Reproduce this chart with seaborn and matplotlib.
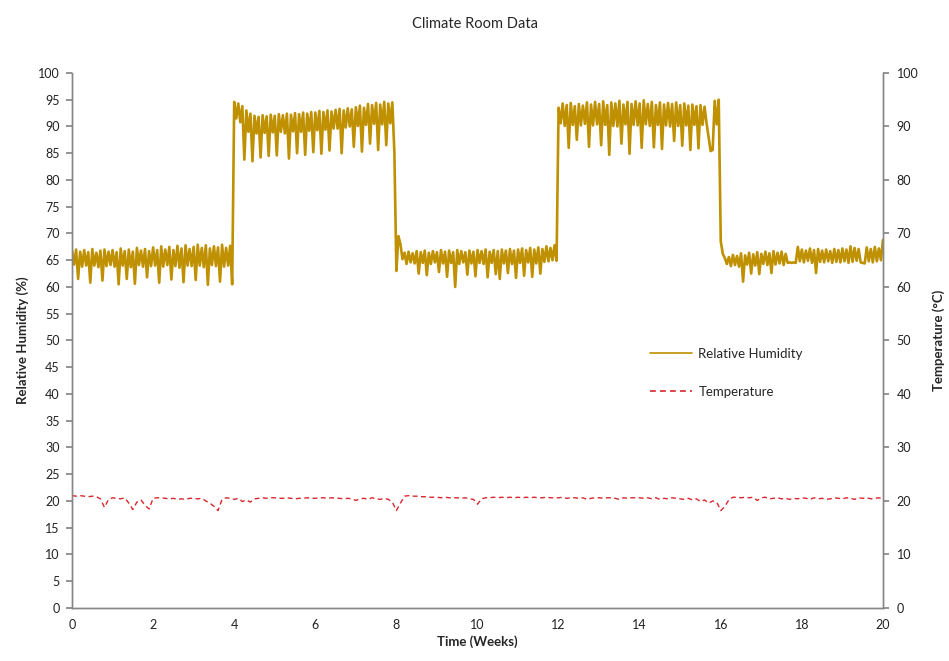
import numpy as np
import seaborn as sns
import matplotlib
matplotlib.use("Agg")
import matplotlib.pyplot as plt

# Relative humidity (%), one row per week, 20 samples a week
rh_weeks_0_4 = [
    66.8, 64.2, 67.0, 61.5, 66.6, 63.8, 66.9, 64.0, 66.5, 60.8, 67.1, 64.0, 66.4, 63.7, 66.8, 61.2, 67.0, 63.9, 66.6, 64.1,
    66.9, 63.8, 66.5, 60.5, 67.2, 64.0, 66.7, 61.5, 67.0, 63.7, 66.6, 60.6, 67.3, 64.1, 66.8, 63.8, 67.1, 61.8, 66.7, 63.9,
    67.4, 64.0, 66.9, 60.8, 67.6, 63.8, 67.0, 64.1, 67.5, 61.4, 66.9, 63.9, 67.7, 63.6, 67.2, 60.9, 67.8, 64.0, 67.1, 63.9,
    67.5, 61.3, 67.9, 64.0, 67.3, 63.7, 67.8, 60.4, 67.2, 64.1, 67.6, 63.9, 67.4, 61.0, 67.9, 63.8, 67.3, 64.0, 67.7, 60.5,
]
rh_weeks_4_8 = [
    94.6, 91.5, 94.3, 90.8, 93.8, 83.8, 93.0, 89.0, 92.4, 83.5, 92.0, 88.7, 91.8, 84.2, 92.1, 88.8, 91.9, 84.5, 92.2, 88.9,
    92.0, 84.6, 92.3, 89.0, 92.1, 88.7, 92.4, 84.0, 92.2, 89.1, 92.5, 85.0, 92.3, 89.0, 92.6, 84.7, 92.4, 89.2, 92.7, 85.2,
    92.6, 89.3, 92.9, 84.9, 92.7, 89.4, 93.0, 85.5, 92.8, 89.6, 93.1, 89.6, 93.3, 85.0, 93.0, 89.8, 93.4, 90.0, 93.2, 86.2,
    93.6, 90.1, 93.9, 85.3, 93.5, 90.3, 94.2, 86.8, 94.0, 90.5, 94.4, 85.6, 94.1, 90.4, 94.6, 86.5, 94.3, 90.6, 94.5, 85.2,
]
rh_weeks_8_12 = [
    63.0, 69.5, 68.0, 65.2, 66.4, 64.3, 66.6, 64.6, 66.3, 64.4, 66.7, 62.5, 66.5, 64.5, 66.8, 62.2, 66.4, 64.3, 66.7, 64.6,
    66.5, 62.8, 66.9, 64.4, 66.6, 61.9, 66.8, 64.5, 66.5, 60.0, 66.9, 64.3, 66.7, 64.6, 66.5, 62.3, 66.8, 64.4, 66.6, 62.0,
    66.9, 64.5, 66.7, 64.3, 67.0, 61.8, 66.6, 64.5, 66.9, 62.4, 66.7, 61.5, 67.0, 64.4, 66.8, 62.6, 67.1, 64.3, 66.8, 61.7,
    67.0, 64.5, 67.2, 62.1, 66.9, 64.6, 67.3, 61.9, 67.0, 64.4, 67.4, 62.5, 67.1, 64.7, 67.6, 64.8, 67.3, 65.0, 67.8, 64.9,
]
rh_weeks_12_16 = [
    93.5, 90.6, 94.3, 90.1, 94.0, 86.0, 94.4, 90.3, 93.8, 87.5, 94.2, 90.2, 93.9, 90.5, 94.5, 86.2, 94.1, 90.2, 94.6, 90.4,
    94.2, 86.5, 94.7, 90.3, 94.0, 84.7, 94.5, 90.1, 94.3, 90.0, 94.8, 86.8, 94.1, 90.4, 94.6, 84.9, 94.2, 90.3, 94.7, 90.2,
    94.3, 86.0, 94.9, 90.4, 94.2, 90.1, 94.6, 86.1, 94.0, 90.3, 94.5, 85.8, 94.1, 90.2, 94.4, 90.0, 94.2, 87.3, 94.5, 90.1,
    94.0, 86.4, 94.3, 90.2, 93.9, 85.6, 94.1, 90.3, 93.8, 85.9, 94.0, 90.3, 93.7, 90.6, 88.0, 85.4, 85.6, 94.8, 90.4, 95.0,
]
rh_weeks_16_20 = [
    68.5, 66.2, 65.4, 64.3, 65.6, 63.9, 66.0, 64.1, 65.8, 63.8, 66.3, 61.0, 65.9, 64.2, 66.4, 62.5, 66.1, 64.0, 66.5, 62.4,
    66.2, 64.3, 66.6, 64.1, 66.3, 62.6, 66.7, 64.2, 66.4, 64.4, 66.6, 64.1, 66.2, 64.5, 64.6, 64.5, 64.6, 64.5, 67.5, 64.8,
    67.0, 64.6, 66.8, 64.9, 67.2, 64.5, 66.9, 62.6, 67.1, 64.7, 66.8, 64.6, 67.0, 64.8, 66.7, 64.5, 67.1, 64.7, 66.9, 64.6,
    67.2, 64.8, 67.0, 64.5, 67.6, 64.7, 67.3, 64.9, 67.1, 64.6, 64.5, 64.4, 67.4, 64.8, 67.1, 64.6, 67.5, 64.8, 67.2, 65.0,
    68.8,
]

# Temperature (deg C), one row per week, 10 samples a week
temp_values = [
    21.0, 20.9, 21.0, 20.9, 20.8, 20.9, 20.8, 20.4, 18.8, 20.3,
    20.6, 20.5, 20.4, 20.6, 19.6, 18.4, 19.8, 20.2, 19.2, 18.5,
    20.5, 20.6, 20.6, 20.5, 20.4, 20.5, 20.3, 20.4, 20.3, 20.5,
    20.5, 20.4, 20.5, 20.0, 19.6, 19.0, 18.2, 20.3, 20.6, 20.5,
    20.3, 20.5, 19.9, 20.2, 19.8, 20.4, 20.5, 20.6, 20.5, 20.6,
    20.6, 20.5, 20.5, 20.6, 20.5, 20.4, 20.5, 20.5, 20.6, 20.5,
    20.5, 20.6, 20.6, 20.5, 20.6, 20.5, 20.5, 20.4, 20.5, 20.4,
    20.1, 20.4, 20.5, 20.3, 20.6, 20.4, 20.3, 20.5, 20.3, 19.8,
    18.2, 19.6, 20.9, 21.0, 20.9, 20.9, 20.8, 20.8, 20.7, 20.7,
    20.7, 20.6, 20.7, 20.6, 20.6, 20.6, 20.5, 20.6, 20.4, 20.3,
    19.4, 20.4, 20.6, 20.6, 20.7, 20.6, 20.7, 20.6, 20.7, 20.6,
    20.7, 20.6, 20.7, 20.6, 20.7, 20.6, 20.6, 20.7, 20.6, 20.6,
    20.6, 20.7, 20.5, 20.6, 20.6, 20.5, 20.6, 20.3, 20.5, 20.6,
    20.6, 20.5, 20.6, 20.6, 20.5, 20.3, 20.6, 20.5, 20.6, 20.6,
    20.6, 20.5, 20.6, 20.4, 20.6, 20.3, 20.5, 20.4, 20.6, 20.5,
    20.4, 20.3, 20.5, 20.2, 20.4, 19.9, 20.2, 19.6, 20.0, 19.8,
    18.2, 19.0, 20.2, 20.7, 20.7, 20.6, 20.7, 20.6, 20.7, 20.1,
    20.6, 20.7, 20.4, 20.5, 20.6, 20.4, 20.5, 20.3, 20.5, 20.4,
    20.6, 20.5, 20.3, 20.6, 20.4, 20.5, 20.3, 20.4, 20.6, 20.5,
    20.4, 20.6, 20.5, 20.3, 20.6, 20.5, 20.6, 20.4, 20.5, 20.6,
    20.4,
]

x_ticks = [0, 2, 4, 6, 8, 10, 12, 14, 16, 18, 20]
rh_ticks = list(range(0, 101, 5))
temp_ticks = list(range(0, 101, 10))

rh = rh_weeks_0_4 + rh_weeks_4_8 + rh_weeks_8_12 + rh_weeks_12_16 + rh_weeks_16_20
rh_time = np.linspace(0, 20, len(rh))
temp_time = np.linspace(0, 20, len(temp_values))

sns.set_theme(style="white")
plt.rcParams["font.family"] = ["Lato", "DejaVu Sans"]

fig = plt.figure(figsize=(9.49, 6.61), dpi=100)
ax = fig.add_axes([0.0759, 0.0802, 0.8545, 0.8094])
ax2 = ax.twinx()

sns.lineplot(x=rh_time, y=rh, ax=ax, color="#BF9000", linewidth=1.9,
             label="Relative Humidity", legend=False)
sns.lineplot(x=temp_time, y=temp_values, ax=ax2, color="#D9262B", linewidth=1.0,
             linestyle=(0, (3.5, 2.5)), label="Temperature", legend=False)

ax.set_xlim(0, 20)
ax.set_ylim(0, 100)
ax2.set_ylim(0, 100)
ax.set_xticks(x_ticks)
ax.set_yticks(rh_ticks)
ax2.set_yticks(temp_ticks)

for a in (ax, ax2):
    a.spines["top"].set_visible(False)
    for s in ("left", "right", "bottom"):
        a.spines[s].set_color("#868686")
        a.spines[s].set_linewidth(1.0)
    a.tick_params(labelsize=9, colors="#222222", length=4, color="#868686")
ax.tick_params(axis="x", length=0, pad=8)
ax.tick_params(axis="y", direction="out", pad=5)
ax2.tick_params(axis="y", direction="out", pad=6)

ax.set_xlabel("Time (Weeks)", fontsize=9.5, fontweight="bold", labelpad=3)
ax.set_ylabel("Relative Humidity (%)", fontsize=9.5, fontweight="bold", labelpad=6)
ax2.set_ylabel("Temperature (°C)", fontsize=9.5, fontweight="bold", labelpad=10)
fig.suptitle("Climate Room Data", fontsize=10.5, y=0.975)

h1, l1 = ax.get_legend_handles_labels()
h2, l2 = ax2.get_legend_handles_labels()
leg = fig.legend(h1 + h2, l1 + l2, loc="upper left", bbox_to_anchor=(0.672, 0.492),
                 frameon=False, fontsize=9.5, handlelength=3.2, labelspacing=2.0, handletextpad=0.5)
for line in leg.get_lines():
    line.set_linewidth(1.2)

fig.savefig("out.png", dpi=100)
